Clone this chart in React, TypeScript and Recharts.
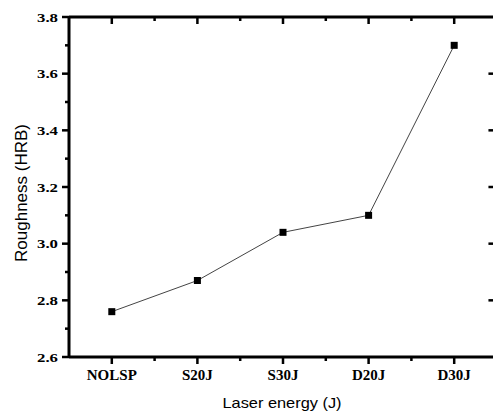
import { LineChart, Line, XAxis, YAxis, ReferenceLine } from "recharts";

const categories = ["NOLSP", "S20J", "S30J", "D20J", "D30J"];
const roughness = [2.76, 2.87, 3.04, 3.1, 3.7];
const xTicks = [0, 0.5, 1, 1.5, 2, 2.5, 3, 3.5, 4];
const yTicks = [2.6, 2.7, 2.8, 2.9, 3.0, 3.1, 3.2, 3.3, 3.4, 3.5, 3.6, 3.7, 3.8];
const yMajorTicks = [2.8, 3.0, 3.2, 3.4, 3.6];

const data = categories.map((name, i) => ({ idx: i, name, value: roughness[i] }));

const xDomain = [-0.5, 4.5];
const isWhole = (v: number) => Math.abs(v - Math.round(v)) < 1e-6;
const isMajorY = (v: number) => Math.abs(v * 5 - Math.round(v * 5)) < 1e-6;

const serif = "'Liberation Serif', 'Times New Roman', serif";
const sans = "'Liberation Sans', Arial, sans-serif";
const axisStyle = { stroke: "#000", strokeWidth: 3 };

function BottomTick({ x, y, payload }: any) {
  const major = isWhole(payload.value);
  return (
    <g>
      <line x1={x} x2={x} y1={y} y2={y + (major ? 7 : 4)} stroke="#000" strokeWidth={2.5} />
      {major && (
        <text x={x} y={y + 23} textAnchor="middle" fontFamily={serif} fontWeight="bold" fontSize={15} fill="#000" stroke="none">
          {categories[Math.round(payload.value)]}
        </text>
      )}
    </g>
  );
}

function TopTick({ x, y, payload }: any) {
  const major = isWhole(payload.value);
  return <line x1={x} x2={x} y1={y} y2={y + (major ? 7 : 4)} stroke="#000" strokeWidth={2.5} />;
}

function LeftTick({ x, y, payload }: any) {
  const major = isMajorY(payload.value);
  return (
    <g>
      <line x1={x - (major ? 7 : 4)} x2={x} y1={y} y2={y} stroke="#000" strokeWidth={2.5} />
      {major && (
        <text
          transform={`translate(${x - 11},${y + 4.5}) scale(1.4,1)`}
          textAnchor="end"
          fontFamily={serif}
          fontWeight="bold"
          fontSize={12}
          fill="#000"
          stroke="none"
        >
          {payload.value.toFixed(1)}
        </text>
      )}
    </g>
  );
}

function SquareDot({ cx, cy, index }: any) {
  return <rect key={`dot-${index}`} x={cx - 3.5} y={cy - 3.5} width={7} height={7} fill="#000" stroke="none" />;
}

export default function App() {
  return (
    <div style={{ position: "absolute", left: 0, top: 0, width: 493, height: 412, overflow: "hidden", background: "#fff" }}>
      <LineChart width={500} height={412} data={data} margin={{ top: 16, right: 3, bottom: 0, left: 24 }}>
        <XAxis
          dataKey="idx"
          type="number"
          domain={xDomain}
          ticks={xTicks}
          interval={0}
          height={55}
          tickSize={0}
          tickMargin={0}
          tick={<BottomTick />}
          stroke="#000"
          axisLine={axisStyle}
          tickLine={false}
          label={{
            content: ({ viewBox }: any) => (
              <text
                transform={`translate(${viewBox.x + viewBox.width / 2 - 1},${viewBox.y + 51}) scale(1.17,1)`}
                textAnchor="middle"
                fontFamily={sans}
                fontSize={14}
                fill="#000"
              >
                Laser energy (J)
              </text>
            ),
          }}
        />
        <XAxis
          xAxisId="top"
          orientation="top"
          dataKey="idx"
          type="number"
          domain={xDomain}
          ticks={xTicks}
          interval={0}
          height={1}
          tickSize={0}
          tickMargin={0}
          tick={<TopTick />}
          stroke="#000"
          axisLine={axisStyle}
          tickLine={false}
        />
        <YAxis
          type="number"
          domain={[2.6, 3.8]}
          ticks={yTicks}
          interval={0}
          width={45}
          tickSize={0}
          tickMargin={0}
          tick={<LeftTick />}
          stroke="#000"
          axisLine={axisStyle}
          tickLine={false}
          label={{
            content: ({ viewBox }: any) => (
              <text
                transform={`translate(${viewBox.x - 3},${viewBox.y + viewBox.height / 2 + 6}) rotate(-90)`}
                textAnchor="middle"
                dominantBaseline="central"
                fontFamily={sans}
                fontSize={17}
                fill="#000"
              >
                Roughness (HRB)
              </text>
            ),
          }}
        />
        <ReferenceLine x={xDomain[1]} stroke="#000" strokeWidth={3} />
        {yMajorTicks.map((v) => (
          <ReferenceLine
            key={`rt-${v}`}
            segment={[
              { x: xDomain[1] - 0.1, y: v },
              { x: xDomain[1], y: v },
            ]}
            stroke="#000"
            strokeWidth={2.5}
          />
        ))}
        <Line
          dataKey="value"
          stroke="#444"
          strokeWidth={1}
          dot={SquareDot}
          activeDot={false}
          isAnimationActive={false}
        />
      </LineChart>
    </div>
  );
}
